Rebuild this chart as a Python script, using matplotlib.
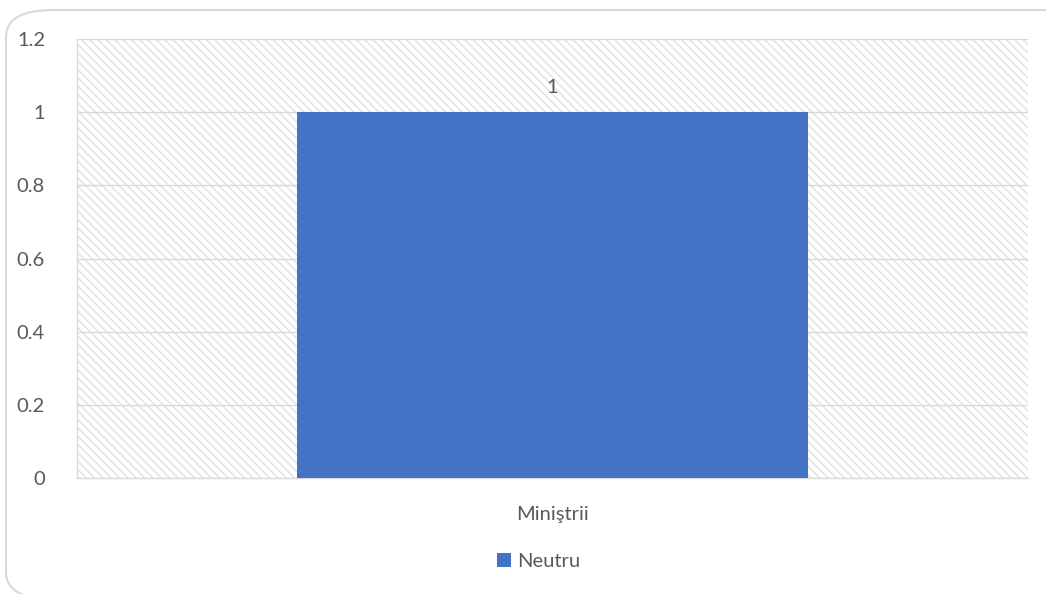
import matplotlib
matplotlib.use("Agg")
import matplotlib.pyplot as plt
from matplotlib.patches import FancyBboxPatch

# ── Data ──────────────────────────────────────────────────────────────────────
categories = ["Miniştrii"]
series_name = "Neutru"
values = [1]
y_ticks = [0, 0.2, 0.4, 0.6, 0.8, 1, 1.2]
y_tick_labels = ["0", "0.2", "0.4", "0.6", "0.8", "1", "1.2"]

# ── Style ─────────────────────────────────────────────────────────────────────
plt.rcParams['font.family'] = ['Lato', 'DejaVu Sans']
plt.rcParams['hatch.linewidth'] = 0.9
TXT = '#595959'
GRID = '#d9d9d9'
HATCH = '#dedede'
BAR = '#4472C4'
FS = 14.5

fig = plt.figure(figsize=(10.46, 5.94), dpi=100)

# rounded chart border (runs off the right edge like the source)
border = FancyBboxPatch((0, 0), 1, 1,
                        boxstyle="round,pad=0,rounding_size=0.045",
                        transform=fig.transFigure, facecolor='none',
                        edgecolor='#d9d9d9', linewidth=1.5, zorder=0)
border.set_bounds(6 / 1046, -5 / 594, 1.1, 1 - 10 / 594 + 5 / 594)
fig.patches.append(border)

ax = fig.add_axes([77 / 1046, 116 / 594, 951 / 1046, 439 / 594])

ax.patch.set_facecolor('white')
ax.patch.set_hatch('\\\\\\\\')
ax.patch.set_edgecolor(HATCH)

x = range(len(categories))
bars = ax.bar(x, values, width=0.538, color=BAR, zorder=3, label=series_name)

for b, v in zip(bars, values):
    ax.text(b.get_x() + b.get_width() / 2, v + 0.068, f"{v:g}",
            ha='center', va='center', fontsize=FS, color=TXT)

ax.set_xlim(-0.5, 0.5)
ax.set_ylim(0, 1.2)
ax.set_yticks(y_ticks)
ax.set_yticklabels(y_tick_labels)
ax.set_xticks(list(x))
ax.set_xticklabels(categories)
ax.tick_params(axis='y', length=0, pad=23, labelsize=FS, labelcolor=TXT)
ax.tick_params(axis='x', length=0, pad=20, labelsize=FS, labelcolor=TXT)
ax.yaxis.grid(True, color=GRID, linewidth=1.0, zorder=1)
ax.set_axisbelow(True)
for s in ['top', 'right']:
    ax.spines[s].set_visible(False)
for s in ['bottom', 'left']:
    ax.spines[s].set_color(GRID)
    ax.spines[s].set_linewidth(1.0)

ax.legend(loc='center', bbox_to_anchor=(0.485, -0.19), frameon=False,
          fontsize=FS, labelcolor=TXT, handlelength=0.7, handleheight=0.7,
          handletextpad=0.3)

fig.savefig('out.png', dpi=100)
